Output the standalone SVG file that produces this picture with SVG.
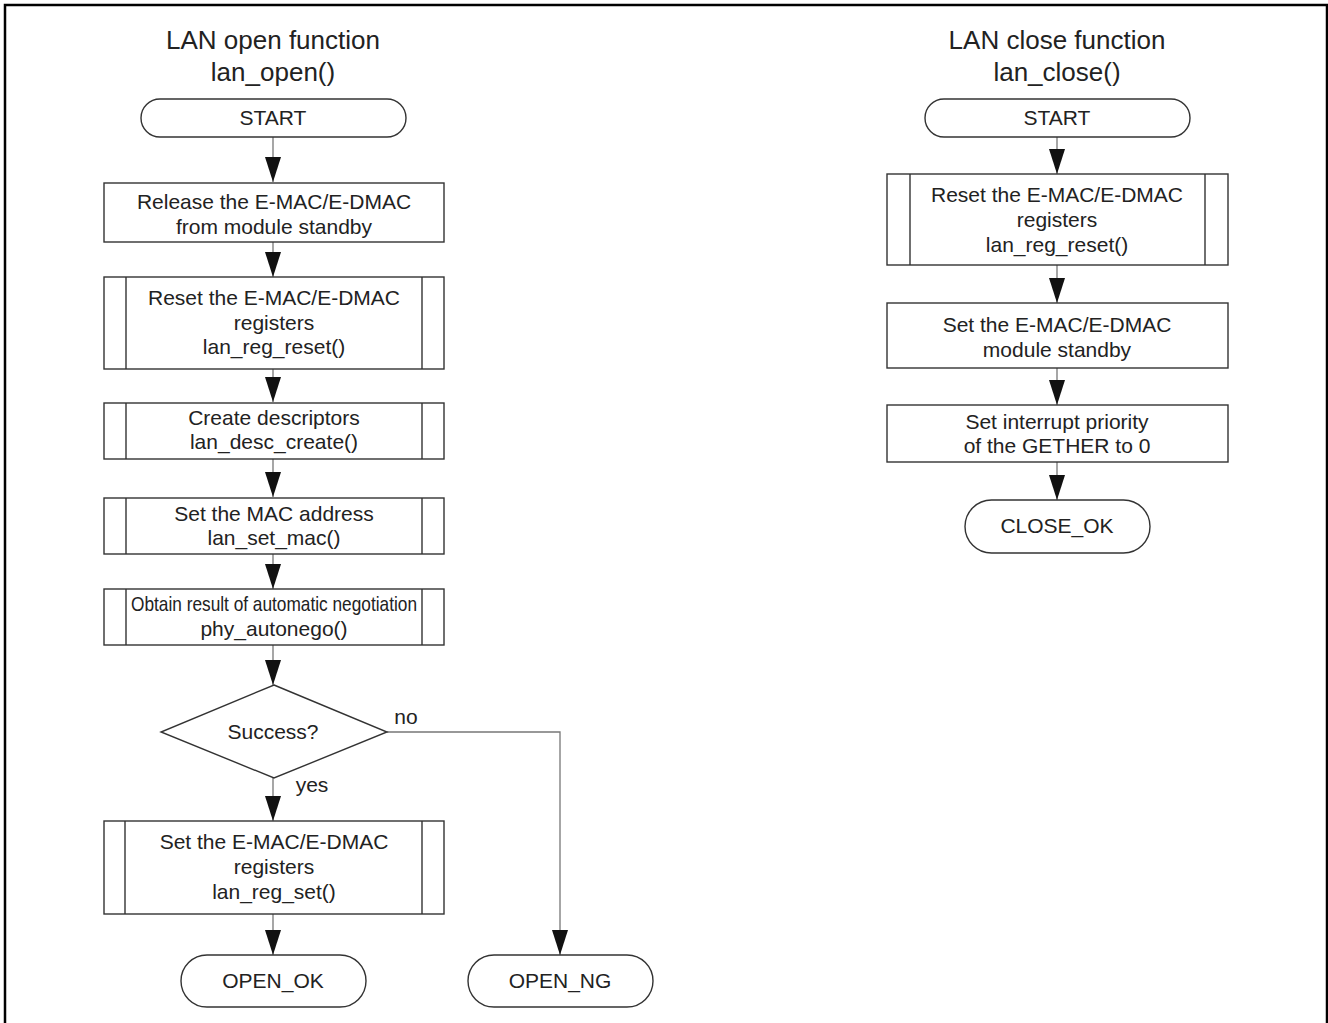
<svg xmlns="http://www.w3.org/2000/svg" width="1328" height="1023" viewBox="0 0 1328 1023">
<defs>
<marker id="ah" viewBox="0 0 25 16" refX="25" refY="8" markerWidth="25" markerHeight="16" markerUnits="userSpaceOnUse" orient="auto">
<path d="M0,0 L25,8 L0,16 z" fill="#111"/>
</marker>
<style>
.box{fill:#fff;stroke:#333;stroke-width:1.4}
.in{stroke:#333;stroke-width:1.4}
.t{font-family:"Liberation Sans",Arial,sans-serif;font-size:21px;fill:#222;text-anchor:middle}
.h{font-family:"Liberation Sans",Arial,sans-serif;font-size:26px;fill:#222;text-anchor:middle}
.c{fill:none;stroke:#777;stroke-width:1.3;marker-end:url(#ah)}
</style>
</defs>
<rect x="0" y="0" width="1328" height="1023" fill="#fff"/>
<rect x="5" y="5" width="1322" height="1022" fill="none" stroke="#000" stroke-width="2.5"/>

<g id="titles">
<text class="h" x="273" y="49">LAN open function</text>
<text class="h" x="273" y="81">lan_open()</text>
<text class="h" x="1057" y="49">LAN close function</text>
<text class="h" x="1057" y="81">lan_close()</text>
</g>

<g id="connectors">
<line class="c" x1="273" y1="137" x2="273" y2="182"/>
<line class="c" x1="273" y1="242" x2="273" y2="277"/>
<line class="c" x1="273" y1="369" x2="273" y2="402"/>
<line class="c" x1="273" y1="459" x2="273" y2="497"/>
<line class="c" x1="273" y1="554" x2="273" y2="589"/>
<line class="c" x1="273" y1="645" x2="273" y2="685"/>
<line class="c" x1="273" y1="778" x2="273" y2="821"/>
<line class="c" x1="273" y1="914" x2="273" y2="955"/>
<polyline class="c" points="387,732 560,732 560,955"/>
<line class="c" x1="1057" y1="137" x2="1057" y2="174"/>
<line class="c" x1="1057" y1="265" x2="1057" y2="303"/>
<line class="c" x1="1057" y1="368" x2="1057" y2="405"/>
<line class="c" x1="1057" y1="462" x2="1057" y2="500"/>
<text class="t" x="406" y="724">no</text>
<text class="t" x="312" y="792">yes</text>
</g>

<g id="start-open">
<rect class="box" x="141" y="99" width="265" height="38" rx="19"/>
<text class="t" x="273" y="125">START</text>
</g>
<g id="release">
<rect class="box" x="104" y="183" width="340" height="59"/>
<text class="t" x="274" y="209">Release the E-MAC/E-DMAC</text>
<text class="t" x="274" y="234">from module standby</text>
</g>
<g id="reset-open">
<rect class="box" x="104" y="277" width="340" height="92"/>
<line class="in" x1="126" y1="277" x2="126" y2="369"/>
<line class="in" x1="422" y1="277" x2="422" y2="369"/>
<text class="t" x="274" y="305">Reset the E-MAC/E-DMAC</text>
<text class="t" x="274" y="330">registers</text>
<text class="t" x="274" y="354">lan_reg_reset()</text>
</g>
<g id="desc">
<rect class="box" x="104" y="403" width="340" height="56"/>
<line class="in" x1="126" y1="403" x2="126" y2="459"/>
<line class="in" x1="422" y1="403" x2="422" y2="459"/>
<text class="t" x="274" y="425">Create descriptors</text>
<text class="t" x="274" y="449">lan_desc_create()</text>
</g>
<g id="mac">
<rect class="box" x="104" y="498" width="340" height="56"/>
<line class="in" x1="126" y1="498" x2="126" y2="554"/>
<line class="in" x1="422" y1="498" x2="422" y2="554"/>
<text class="t" x="274" y="521">Set the MAC address</text>
<text class="t" x="274" y="545">lan_set_mac()</text>
</g>
<g id="autonego">
<rect class="box" x="104" y="589" width="340" height="56"/>
<line class="in" x1="126" y1="589" x2="126" y2="645"/>
<line class="in" x1="422" y1="589" x2="422" y2="645"/>
<text class="t" x="274" y="611" textLength="286" lengthAdjust="spacingAndGlyphs">Obtain result of automatic negotiation</text>
<text class="t" x="274" y="636">phy_autonego()</text>
</g>
<g id="success">
<polygon class="box" points="274,685 387,732 274,778 161,732"/>
<text class="t" x="273" y="739">Success?</text>
</g>
<g id="regset">
<rect class="box" x="104" y="821" width="340" height="93"/>
<line class="in" x1="125" y1="821" x2="125" y2="914"/>
<line class="in" x1="422" y1="821" x2="422" y2="914"/>
<text class="t" x="274" y="849">Set the E-MAC/E-DMAC</text>
<text class="t" x="274" y="874">registers</text>
<text class="t" x="274" y="899">lan_reg_set()</text>
</g>
<g id="open-ok">
<rect class="box" x="181" y="955" width="185" height="52" rx="26"/>
<text class="t" x="273" y="988">OPEN_OK</text>
</g>
<g id="open-ng">
<rect class="box" x="468" y="955" width="185" height="52" rx="26"/>
<text class="t" x="560" y="988">OPEN_NG</text>
</g>

<g id="start-close">
<rect class="box" x="925" y="99" width="265" height="38" rx="19"/>
<text class="t" x="1057" y="125">START</text>
</g>
<g id="reset-close">
<rect class="box" x="887" y="174" width="341" height="91"/>
<line class="in" x1="910" y1="174" x2="910" y2="265"/>
<line class="in" x1="1205" y1="174" x2="1205" y2="265"/>
<text class="t" x="1057" y="202">Reset the E-MAC/E-DMAC</text>
<text class="t" x="1057" y="227">registers</text>
<text class="t" x="1057" y="252">lan_reg_reset()</text>
</g>
<g id="standby">
<rect class="box" x="887" y="303" width="341" height="65"/>
<text class="t" x="1057" y="332">Set the E-MAC/E-DMAC</text>
<text class="t" x="1057" y="357">module standby</text>
</g>
<g id="priority">
<rect class="box" x="887" y="405" width="341" height="57"/>
<text class="t" x="1057" y="429">Set interrupt priority</text>
<text class="t" x="1057" y="453">of the GETHER to 0</text>
</g>
<g id="close-ok">
<rect class="box" x="965" y="500" width="185" height="53" rx="26.5"/>
<text class="t" x="1057" y="533">CLOSE_OK</text>
</g>
</svg>
